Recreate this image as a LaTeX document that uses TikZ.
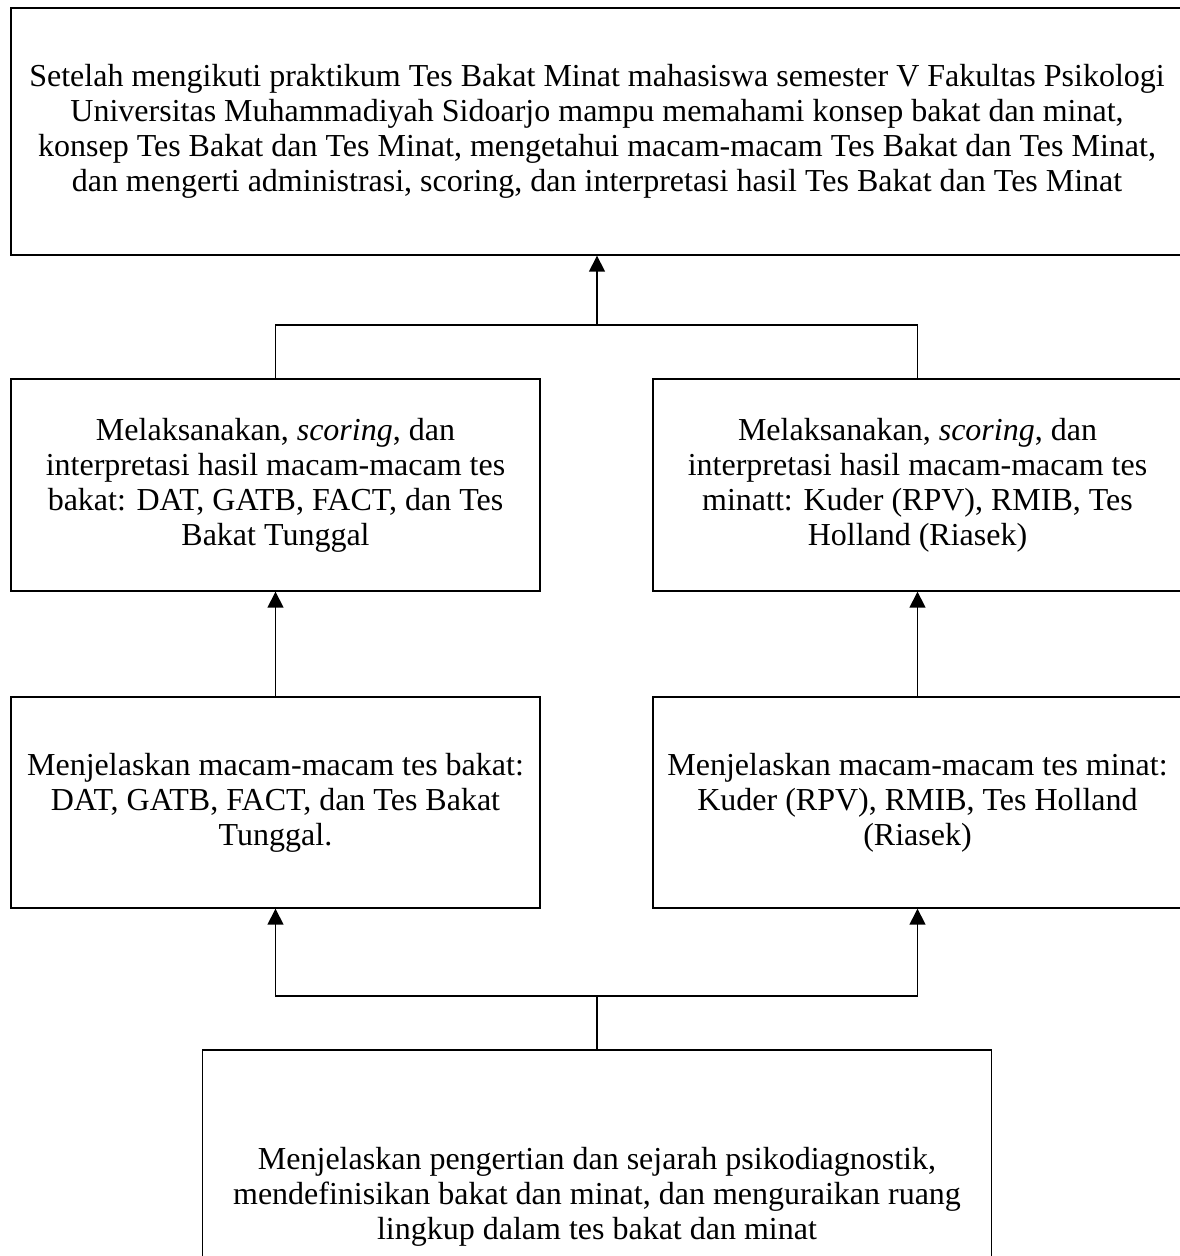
\documentclass[tikz,border=0pt]{standalone}
\usepackage{fontspec}
\setmainfont{Liberation Serif}
\usetikzlibrary{arrows.meta,positioning,calc}

\begin{document}
\begin{tikzpicture}[
    x=0.5pt, y=-0.5pt,
    unit/.style={rectangle, draw, line width=0.7pt, align=center, inner sep=0pt, font=\fontsize{16}{17.5}\selectfont},
    half/.style={unit, minimum width=264.5pt, minimum height=106pt},
    link/.style={line width=0.8pt},
    arr/.style={link, -{Triangle[length=8pt,width=8pt]}}
]
    \useasboundingbox (0,0) rectangle (1179,1256);

    \node[unit, minimum width=586pt, minimum height=123.5pt] (goal) at (597,131.5)
        {Setelah mengikuti praktikum Tes Bakat Minat mahasiswa semester V Fakultas Psikologi\\
         Universitas Muhammadiyah Sidoarjo mampu memahami konsep bakat dan minat,\\
         konsep Tes Bakat dan Tes Minat, mengetahui macam-macam Tes Bakat dan Tes Minat,\\
         dan mengerti administrasi, scoring, dan interpretasi hasil Tes Bakat dan Tes Minat};

    \node[half] (doL) at (275.5,485)
        {Melaksanakan, \textit{scoring}, dan\\ interpretasi hasil macam-macam tes\\
         bakat: DAT, GATB, FACT, dan Tes\\ Bakat Tunggal};
    \node[half] (doR) at (917.5,485)
        {Melaksanakan, \textit{scoring}, dan\\ interpretasi hasil macam-macam tes\\
         minatt: Kuder (RPV), RMIB, Tes\\ Holland (Riasek)};

    \node[half, minimum height=105.5pt] (knowL) at (275.5,802.5)
        {Menjelaskan macam-macam tes bakat:\\ DAT, GATB, FACT, dan Tes Bakat\\ Tunggal.};
    \node[half, minimum height=105.5pt] (knowR) at (917.5,802.5)
        {Menjelaskan macam-macam tes minat:\\ Kuder (RPV), RMIB, Tes Holland\\ (Riasek)};

    \node[unit, minimum width=394.5pt, minimum height=147pt] (base) at (597,1197)
        {Menjelaskan pengertian dan sejarah psikodiagnostik,\\
         mendefinisikan bakat dan minat, dan menguraikan ruang\\
         lingkup dalam tes bakat dan minat};

    % junctions
    \coordinate (jTop) at (597,325);
    \coordinate (jBot) at (597,996);

    \draw[arr] (jTop) -- (goal.south);
    \draw[link] (doL.north) |- (jTop);
    \draw[link] (doR.north) |- (jTop);

    \draw[arr] (knowL.north) -- (doL.south);
    \draw[arr] (knowR.north) -- (doR.south);

    \draw[link] (base.north) -- (jBot);
    \draw[arr] (jBot) -| (knowL.south);
    \draw[arr] (jBot) -| (knowR.south);
\end{tikzpicture}
\end{document}
